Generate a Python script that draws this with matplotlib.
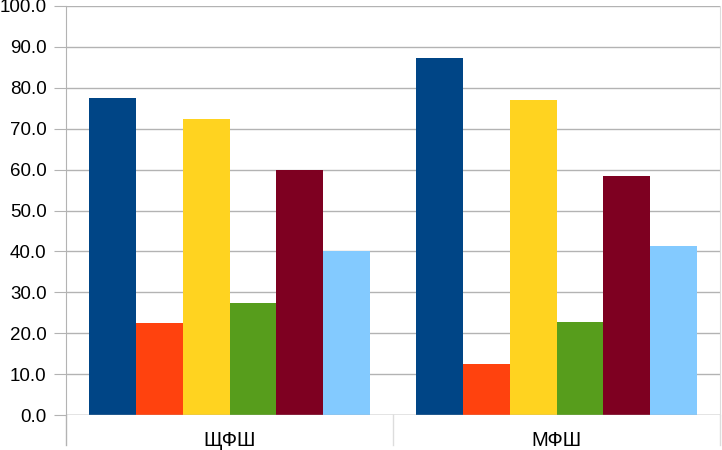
import numpy as np
import matplotlib
matplotlib.use("Agg")
from matplotlib import pyplot as plt

categories = ["ЩФШ", "МФШ"]
series_1 = [77.4, 87.3]
series_2 = [22.5, 12.5]
series_3 = [72.4, 77.0]
series_4 = [27.5, 22.8]
series_5 = [59.8, 58.5]
series_6 = [40.0, 41.4]
y_ticks = np.arange(0, 101, 10)

colors = ["#004586", "#ff420e", "#ffd320", "#579d1c", "#7e0021", "#83caff"]
all_series = [series_1, series_2, series_3, series_4, series_5, series_6]

plt.rcParams['font.family'] = ['Liberation Sans', 'DejaVu Sans']

W, H = 722, 450
fig = plt.figure(figsize=(W / 100, H / 100), dpi=100)
# plot area in pixels: x 66..720, y 6..415
ax = fig.add_axes([66 / W, (H - 415) / H, (720 - 66) / W, (415 - 6) / H])

n = len(all_series)
bar_w = 0.86 / n
x = np.arange(len(categories))
for i, (vals, c) in enumerate(zip(all_series, colors)):
    ax.bar(x - 0.43 + bar_w * (i + 0.5), vals, width=bar_w, color=c, zorder=3)

ax.set_xlim(-0.5, len(categories) - 0.5)
ax.set_ylim(0, 100)
ax.set_yticks(y_ticks)
ax.set_yticklabels(["%.1f" % v for v in y_ticks], fontsize=13.5)
ax.yaxis.grid(True, color="#b3b3b3", linewidth=1, zorder=0)
ax.tick_params(axis="y", length=9, color="#b3b3b3", pad=5)
ax.tick_params(axis="x", length=0)
ax.set_xticks([])
for s in ["top", "bottom"]:
    ax.spines[s].set_visible(False)
ax.spines["left"].set_color("#b3b3b3")
ax.spines["right"].set_color("#dddddd")

# axis lines extending below the plot area and category separators
trans = ax.get_xaxis_transform()
drop = -30 / 409
for xv in [-0.5, 0.5, 1.5]:
    col = "#b3b3b3" if xv == -0.5 else "#dddddd"
    ax.plot([xv, xv], [0, drop], color=col, lw=1, transform=trans, clip_on=False)
ax.axhline(0, color="#b3b3b3", lw=1, zorder=4)

for xi, name in zip(x, categories):
    ax.text(xi, -25 / 409, name, transform=trans, ha="center", va="center", fontsize=14.5)

fig.savefig("out.png", dpi=100)
